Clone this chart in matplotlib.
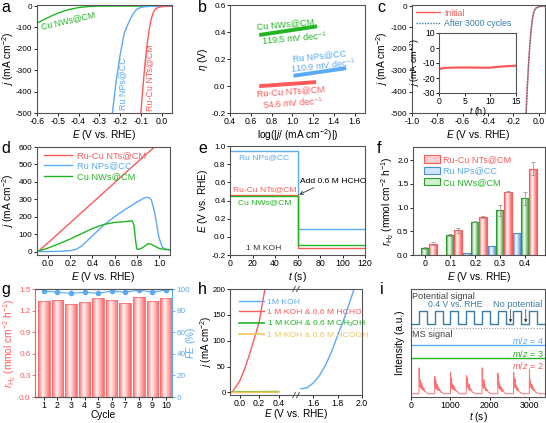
import numpy as np
import matplotlib
matplotlib.use('Agg')
import matplotlib.pyplot as plt
from matplotlib.colors import LinearSegmentedColormap
from matplotlib.patches import Patch
from matplotlib.ticker import FormatStrFormatter

BASE = 'Liberation Sans'
plt.rcParams.update({
    'font.family': [BASE, 'DejaVu Sans'],
    'font.size': 6.3,
    'xtick.labelsize': 6.3,
    'ytick.labelsize': 5.9,
    'axes.labelsize': 7.3,
    'mathtext.fontset': 'custom',
    'mathtext.rm': BASE,
    'mathtext.it': BASE + ':italic',
    'mathtext.bf': BASE + ':bold',
    'axes.unicode_minus': False,
    'axes.linewidth': 0.8,
    'axes.edgecolor': '#555555',
    'xtick.direction': 'out', 'ytick.direction': 'out',
    'xtick.major.size': 2.2, 'ytick.major.size': 2.2,
    'xtick.major.width': 0.6, 'ytick.major.width': 0.6,
    'xtick.major.pad': 1.0, 'ytick.major.pad': 1.0,
    'axes.labelpad': 0.8,
    'legend.frameon': False,
})

RED = '#ff5a5a'; BLUE = '#5aaaf5'; GREEN = '#22b522'; ORANGE = '#f2c45a'; STEEL = '#3a7ca5'

# ---------------- data ----------------
# (a) HER polarisation
a_rucu_E = [0.05, 0.02, 0.0, -0.02, -0.03, -0.04, -0.05, -0.06, -0.07, -0.08, -0.09, -0.1]
a_rucu_j = [0, -1, -3, -8, -15, -30, -60, -110, -180, -270, -380, -500]
a_ru_E = [0.05, 0.0, -0.05, -0.08, -0.1, -0.12, -0.14, -0.16, -0.18, -0.2, -0.22, -0.237]
a_ru_j = [0, 0, -1, -3, -6, -15, -40, -80, -127, -230, -360, -500]
a_cu_E = [-0.6, -0.55, -0.5, -0.45, -0.4, -0.35, -0.3, 0.05]
a_cu_j = [-80, -55, -33, -17, -7, -2, 0, 0]

# (b) Tafel
b_cu_x = [0.70, 1.22]; b_cu_y = [0.38, 0.44]
b_ru_x = [1.03, 1.50]; b_ru_y = [0.078, 0.13]
b_rucu_x = [0.70, 1.21]; b_rucu_y = [0.0, 0.028]

# (c) stability
c_init_E = [0.05, 0.02, 0.0, -0.02, -0.03, -0.04, -0.05, -0.06, -0.07, -0.08, -0.09, -0.1]
c_init_j = [0, -1, -3, -8, -15, -30, -60, -110, -180, -270, -380, -500]
c_after_E = [0.05, 0.02, 0.0, -0.02, -0.03, -0.04, -0.05, -0.06, -0.07, -0.08, -0.09, -0.098]
c_after_j = [0, -1, -4, -10, -19, -36, -68, -120, -192, -282, -392, -500]
c_t = [0, 0.5, 1, 2, 3, 4, 5, 6, 7, 8, 9, 10, 11, 12, 13, 14, 15]
c_tj = [-14.2, -13.6, -13.3, -13.2, -13.1, -13.0, -13.0, -13.0, -13.1, -13.1, -13.2, -13.1, -12.7, -12.4, -12.2, -12.0, -11.8]

# (d) HzOR polarisation
d_rucu_E = [-0.1, 0.0, 0.2, 0.4, 0.6, 0.8, 0.96]
d_rucu_j = [-5, 50, 165, 280, 395, 510, 600]
d_ru_E = [-0.1, 0.0, 0.1, 0.2, 0.25, 0.3, 0.4, 0.5, 0.6, 0.7, 0.8, 0.86, 0.9, 0.93, 0.96, 1.0, 1.03, 1.06, 1.1]
d_ru_j = [0, 0, 1, 5, 12, 30, 90, 150, 200, 243, 283, 305, 312, 300, 230, 80, 25, 14, 10]
d_cu_E = [-0.1, 0.0, 0.1, 0.2, 0.3, 0.4, 0.5, 0.6, 0.7, 0.76, 0.775, 0.79, 0.8, 0.82, 0.86, 0.9, 0.93, 0.97, 1.0, 1.05, 1.1]
d_cu_j = [0, 20, 45, 72, 102, 132, 155, 167, 172, 176, 150, 60, 15, 12, 25, 45, 42, 28, 18, 12, 10]

# (e) open circuit potential
e_t = [0, 60, 60, 120]
e_ru = [0.95, 0.95, 0.09, 0.09]
e_rucu = [0.46, 0.46, -0.12, -0.12]
e_cu = [0.45, 0.45, -0.09, -0.09]

# (f) H2 rate
f_E = ['0', '0.1', '0.2', '0.3', '0.4']
f_ru = [0.01, 0.01, 0.04, 0.18, 0.47]
f_cu = [0.14, 0.42, 0.70, 0.94, 1.20]
f_rucu = [0.24, 0.52, 0.80, 1.34, 1.82]
f_cu_err = [0.02, 0.02, 0.01, 0.12, 0.14]
f_rucu_err = [0.03, 0.06, 0.02, 0.02, 0.14]

# (g) cycling
g_cycle = [1, 2, 3, 4, 5, 6, 7, 8, 9, 10]
g_rate = [1.34, 1.35, 1.29, 1.32, 1.38, 1.35, 1.30, 1.39, 1.34, 1.37]
g_fe = [98, 97, 96, 97, 96, 98, 97, 99, 97, 99]

# (h) different electrolytes
h_koh_E = [1.5, 1.55, 1.6, 1.65, 1.7, 1.75, 1.8, 1.85, 1.9, 1.935]
h_koh_j = [7, 9, 18, 32, 52, 78, 110, 140, 175, 200]
h_hcho_E = [-0.08, -0.05, 0.0, 0.05, 0.1, 0.15, 0.2, 0.26]
h_hcho_j = [0, 8, 22, 45, 73, 104, 136, 200]
h_meoh_E = [-0.08, 0.0, 0.1, 0.2, 0.3, 0.4]
h_meoh_j = [0.5, 1.0, 1.2, 1.3, 1.4, 1.5]
h_hcooh_E = [-0.08, 0.0, 0.1, 0.2, 0.3, 0.4]
h_hcooh_j = [0, 0.2, 0.4, 0.5, 0.6, 0.7]

# (i) online MS
i_pulse_starts = [200, 600, 1000, 1400, 1800, 2200, 2600, 3000]
i_pulse_len = 200
i_low, i_high = 67.6, 79.6
i_ms_off = [0, 6, 14, 22, 30, 40, 50, 60, 72, 85, 100, 115, 130, 150, 175, 200, 225]
i_ms_vals = [
    [3, 27, 14, 10, 16, 9, 12, 8, 13, 7, 10, 6, 8, 5, 5, 4, 3],
    [3, 19, 11, 8, 15, 9, 11, 7, 12, 6, 9, 6, 7, 5, 4, 4, 3],
    [3, 23, 13, 9, 17, 8, 12, 7, 11, 7, 10, 6, 7, 5, 5, 4, 3],
    [3, 20, 12, 18, 10, 14, 8, 11, 7, 12, 6, 8, 6, 5, 4, 4, 3],
    [3, 27, 15, 10, 13, 8, 16, 9, 11, 6, 9, 6, 7, 5, 4, 4, 3],
    [3, 22, 12, 9, 14, 8, 11, 7, 10, 6, 9, 5, 7, 5, 4, 3, 3],
    [3, 23, 13, 9, 12, 17, 9, 11, 7, 10, 6, 8, 6, 5, 4, 4, 3],
    [3, 26, 14, 10, 15, 9, 12, 8, 11, 7, 9, 6, 7, 5, 4, 4, 3],
]
i_base = 3
i_m3, i_m4, i_sep = 36, 48, 64

# ---------------- figure ----------------
W, H = 546, 423
fig = plt.figure(figsize=(W / 100, H / 100), dpi=100)


def ax_px(l, t, r, b):
    return fig.add_axes([l / W, 1 - b / H, (r - l) / W, (b - t) / H])


def letter(x, y, s):
    fig.text(x / W, 1 - y / H, s, fontsize=11.5, ha='left', va='baseline')


def ylab_at(ax, px_x, l):
    # anchor edge of the y label at figure pixel column px_x
    ax.yaxis.set_label_coords((px_x - l) / (ax.get_position().width * W), 0.5)


def xlab_at(ax, px_y, t, b):
    ax.xaxis.set_label_coords(0.5, -(px_y - b) / (b - t))


XL = r'$E$ (V vs. RHE)'
JL = r'$j$ (mA cm$^{-2}$)'
RL = r'$r_{\mathrm{H_2}}$ (mmol cm$^{-2}$ h$^{-1}$)'


def grad_bars(ax, x, h, width, color, light='#ffffff', lw=0.8):
    bars = ax.bar(x, h, width, color='none', edgecolor=color, lw=lw, zorder=3)
    cmap = LinearSegmentedColormap.from_list('g', [(0, color), (0.4, light), (1, color)])
    grad = np.linspace(0, 1, 64).reshape(1, -1)
    for b in bars:
        x0, y0 = b.get_x(), b.get_y()
        w, hh = b.get_width(), b.get_height()
        if hh <= 0:
            continue
        im = ax.imshow(grad, extent=[x0, x0 + w, y0, y0 + hh], cmap=cmap,
                       aspect='auto', zorder=2, interpolation='bilinear')
        im.set_clip_path(b)
    return bars

# (a)
ax = ax_px(37, 5, 172, 113)
ax.plot(a_cu_E, a_cu_j, color=GREEN, lw=1)
ax.plot(a_ru_E, a_ru_j, color=BLUE, lw=1)
ax.plot(a_rucu_E, a_rucu_j, color=RED, lw=1)
ax.set_xlim(-0.6, 0.05); ax.set_ylim(-500, 5)
ax.set_xticks([-0.6, -0.5, -0.4, -0.3, -0.2, -0.1, 0.0])
ax.xaxis.set_major_formatter(FormatStrFormatter('%.1f'))
ax.set_yticks([-500, -400, -300, -200, -100, 0])
ax.set_xlabel(XL); ax.set_ylabel(JL)
ylab_at(ax, 16, 37)
ax.text(-0.575, -108, 'Cu NWs@CM', color=GREEN, rotation=13, rotation_mode='anchor', fontsize=6.3)
ax.text(-0.207, -487, 'Ru NPs@CC', color=BLUE, rotation=90, fontsize=6.4, ha='left', va='bottom')
ax.text(-0.077, -490, 'Ru-Cu NTs@CM', color=RED, rotation=90, fontsize=6.4, ha='left', va='bottom')
letter(1, 12, 'a')

# (b)
ax = ax_px(230, 5, 365, 113)
ax.plot(b_cu_x, b_cu_y, color=GREEN, lw=2.8)
ax.plot(b_ru_x, b_ru_y, color=BLUE, lw=2.8)
ax.plot(b_rucu_x, b_rucu_y, color=RED, lw=2.8)
ax.set_xlim(0.4, 1.7); ax.set_ylim(-0.2, 0.6)
ax.set_xticks([0.4, 0.6, 0.8, 1.0, 1.2, 1.4, 1.6])
ax.set_yticks([-0.2, 0.0, 0.2, 0.4, 0.6])
ax.xaxis.set_major_formatter(FormatStrFormatter('%.1f'))
ax.yaxis.set_major_formatter(FormatStrFormatter('%.1f'))
ax.set_xlabel(r'log(|$j$/ (mA cm$^{-2}$)|)'); ax.set_ylabel(r'$\eta$ (V)')
fs = 6.6
ax.text(0.66, 0.44, 'Cu NWs@CM', color=GREEN, rotation=5, rotation_mode='anchor', va='center', fontsize=fs)
ax.text(0.70, 0.33, r'119.5 mV dec$^{-1}$', color=GREEN, rotation=5, rotation_mode='anchor', va='center', fontsize=fs)
ax.text(1.00, 0.20, 'Ru NPs@CC', color=BLUE, rotation=6, rotation_mode='anchor', va='center', fontsize=fs)
ax.text(0.98, 0.125, r'110.9 mV dec$^{-1}$', color=BLUE, rotation=6, rotation_mode='anchor', va='center', fontsize=fs)
ax.text(0.655, -0.06, 'Ru-Cu NTs@CM', color=RED, rotation=4, rotation_mode='anchor', va='center', fontsize=fs)
ax.text(0.71, -0.145, r'54.6 mV dec$^{-1}$', color=RED, rotation=4, rotation_mode='anchor', va='center', fontsize=fs)
letter(198, 12, 'b')

# (c)
ax = ax_px(412, 5, 545, 113)
ax.plot(c_init_E, c_init_j, color=RED, lw=1, label='Initial')
ax.plot(c_after_E, c_after_j, color=STEEL, lw=1, ls=(0, (1, 1)), label='After 3000 cycles')
ax.set_xlim(-1.0, 0.05); ax.set_ylim(-500, 5)
ax.set_xticks([-1.0, -0.8, -0.6, -0.4, -0.2, 0.0])
ax.xaxis.set_major_formatter(FormatStrFormatter('%.1f'))
ax.set_yticks([-500, -400, -300, -200, -100, 0])
ax.set_xlabel(XL); ax.set_ylabel(JL)
leg = ax.legend(loc='upper left', bbox_to_anchor=(-0.03, 1.04), handlelength=2.7,
                handletextpad=0.5, labelspacing=0.2, fontsize=6.3)
for t, c in zip(leg.get_texts(), [RED, STEEL]):
    t.set_color(c)
letter(377, 12, 'c')
ins = ax_px(439, 33, 516, 93)
ins.plot(c_t, c_tj, color=RED, lw=1.6)
ins.set_xlim(0, 15); ins.set_ylim(-30, 10)
ins.set_xticks([0, 5, 10, 15]); ins.set_yticks([-30, -20, -10, 0, 10])
ins.tick_params(labelsize=6.2, length=2, pad=1)
ins.set_xlabel(r'$t$ (h)', fontsize=6.5, labelpad=-0.5)
ins.set_ylabel(JL, fontsize=6.5, labelpad=0)

# (d)
ax = ax_px(37, 147, 170, 255)
ax.plot(d_rucu_E, d_rucu_j, color=RED, lw=1, label='Ru-Cu NTs@CM')
ax.plot(d_ru_E, d_ru_j, color=BLUE, lw=1, label='Ru NPs@CC')
ax.plot(d_cu_E, d_cu_j, color=GREEN, lw=1, label='Cu NWs@CM')
ax.set_xlim(-0.1, 1.1); ax.set_ylim(-20, 600)
ax.set_xticks([0.0, 0.2, 0.4, 0.6, 0.8, 1.0])
ax.xaxis.set_major_formatter(FormatStrFormatter('%.1f'))
ax.set_yticks([0, 100, 200, 300, 400, 500, 600])
ax.set_xlabel(XL); ax.set_ylabel(JL)
ylab_at(ax, 16, 37)
leg = ax.legend(loc='upper left', bbox_to_anchor=(-0.01, 1.04), handlelength=3.0,
                handletextpad=0.5, labelspacing=0.15, fontsize=6.7)
for t, c in zip(leg.get_texts(), [RED, BLUE, GREEN]):
    t.set_color(c)
letter(1, 153, 'd')

# (e)
ax = ax_px(230, 146, 365, 255)
ax.plot(e_t, e_ru, color=BLUE, lw=1)
ax.plot(e_t, e_rucu, color=RED, lw=1)
ax.plot(e_t, e_cu, color=GREEN, lw=1)
ax.set_xlim(0, 120); ax.set_ylim(-0.2, 1.0)
ax.set_xticks([0, 20, 40, 60, 80, 100, 120])
ax.set_yticks([-0.2, 0.0, 0.2, 0.4, 0.6, 0.8, 1.0])
ax.yaxis.set_major_formatter(FormatStrFormatter('%.1f'))
ax.set_xlabel(r'$t$ (s)'); ax.set_ylabel(r'$E$ (V vs. RHE)')
fe = 6.1
ax.text(8, 0.865, 'Ru NPs@CC', color=BLUE, va='center', fontsize=fe)
ax.text(3, 0.52, 'Ru-Cu NTs@CM', color=RED, va='center', fontsize=fe)
ax.text(7, 0.375, 'Cu NWs@CM', color=GREEN, va='center', fontsize=fe)
ax.text(14, -0.125, '1 M KOH', color='#333333', va='center', fontsize=fe)
ax.annotate('Add 0.6 M HCHO', xy=(61.5, 0.465), xytext=(62, 0.61), va='center', fontsize=fe,
            arrowprops=dict(arrowstyle='->', color='#333333', lw=0.6,
                            shrinkA=0, shrinkB=0, relpos=(0.3, 0)))
letter(198, 153, 'e')

# (f)
ax = ax_px(413, 147, 545, 255)
xf = np.arange(len(f_E))
bw = 0.32
grad_bars(ax, xf - bw, f_ru, bw, '#4a8fe0', light='#ffffff')
grad_bars(ax, xf, f_cu, bw, '#2a9a2a', light='#ffffff')
grad_bars(ax, xf + bw, f_rucu, bw, RED, light='#ffffff')
ax.errorbar(xf, f_cu, yerr=f_cu_err, fmt='none', ecolor='#999999', elinewidth=0.6, capsize=1.5, capthick=0.6, zorder=4)
ax.errorbar(xf + bw, f_rucu, yerr=f_rucu_err, fmt='none', ecolor='#999999', elinewidth=0.6, capsize=1.5, capthick=0.6, zorder=4)
ax.set_xlim(-0.5, 4.8); ax.set_ylim(0, 2.28)
ax.set_xticks(xf); ax.set_xticklabels(f_E)
ax.set_yticks([0, 0.5, 1.0, 1.5, 2.0])
ax.yaxis.set_major_formatter(FormatStrFormatter('%.1f'))
ax.set_xlabel(XL); ax.set_ylabel(RL)
handles = [Patch(facecolor='#ffd0d0', edgecolor=RED, lw=0.8),
           Patch(facecolor='#d0e4ff', edgecolor='#4a8fe0', lw=0.8),
           Patch(facecolor='#d0f0d0', edgecolor='#2a9a2a', lw=0.8)]
leg = ax.legend(handles, ['Ru-Cu NTs@CM', 'Ru NPs@CC', 'Cu NWs@CM'], loc='upper left',
                bbox_to_anchor=(0.02, 1.0), handlelength=1.8, handleheight=0.9,
                handletextpad=0.3, labelspacing=0.25, fontsize=6.6)
for t, c in zip(leg.get_texts(), [RED, BLUE, GREEN]):
    t.set_color(c)
letter(377, 153, 'f')

# (g)
ax = ax_px(35, 289, 172, 397)
grad_bars(ax, g_cycle, g_rate, 0.85, '#ff6a6a', light='#fff4f4', lw=0.6)
ax.set_xlim(0.35, 10.45); ax.set_ylim(0, 1.5)
ax.set_xticks(g_cycle)
ax.set_yticks([0, 0.3, 0.6, 0.9, 1.2, 1.5])
ax.yaxis.set_major_formatter(FormatStrFormatter('%.1f'))
ax.tick_params(axis='y', colors=RED)
ax.spines['left'].set_color(RED)
ax.spines['right'].set_visible(False)
ax.set_xlabel('Cycle')
xlab_at(ax, 409.5, 289, 397)
ax.set_ylabel(RL, color=RED)
ax2 = ax.twinx()
ax2.plot(g_cycle, g_fe, color=BLUE, lw=0.8, marker='o', ms=3)
ax2.set_ylim(0, 100)
ax2.set_yticks([0, 20, 40, 60, 80, 100])
ax2.tick_params(axis='y', colors=BLUE)
ax2.spines['right'].set_color(BLUE)
ax2.spines['left'].set_visible(False)
ax2.set_ylabel(r'$FE$ (%)', color=BLUE, fontsize=7)
ax2.yaxis.set_label_coords((184.5 - 35) / 137, 0.5)
letter(1, 294, 'g')

# (h)
axl = ax_px(230, 289, 296, 395)
axr = ax_px(296, 289, 362, 395)
l1, = axr.plot(h_koh_E, h_koh_j, color=BLUE, lw=1)
l2, = axl.plot(h_hcho_E, h_hcho_j, color=RED, lw=1)
l3, = axl.plot(h_meoh_E, h_meoh_j, color=GREEN, lw=1.2)
l4, = axl.plot(h_hcooh_E, h_hcooh_j, color=ORANGE, lw=1.2)
axl.set_xlim(-0.1, 0.58); axr.set_xlim(1.46, 2.0)
for a in (axl, axr):
    a.set_ylim(-5, 200)
axl.set_xticks([0.0, 0.2, 0.4]); axr.set_xticks([1.6, 1.8, 2.0])
axl.xaxis.set_major_formatter(FormatStrFormatter('%.1f'))
axr.xaxis.set_major_formatter(FormatStrFormatter('%.1f'))
axl.set_yticks([0, 50, 100, 150, 200])
axl.tick_params(axis='y', labelsize=5.7)
axr.set_yticks([])
axl.spines['right'].set_visible(False)
axr.spines['left'].set_visible(False)
axr.patch.set_alpha(0)
axl.set_ylabel(JL, fontsize=7)
ylab_at(axl, 213.5, 230)
fig.text(296 / W, 1 - 414 / H, XL, ha='center', va='center', fontsize=7.3)
d = 0.04
for yy in (0, 1):
    for dx in (-0.03, 0.03):
        axl.plot([1 + dx - d / 2, 1 + dx + d / 2], [yy - 0.025, yy + 0.025], transform=axl.transAxes,
                 color='#555555', lw=0.7, clip_on=False)
leg = fig.legend([l1, l2, l3, l4],
                 ['1M KOH', '1 M KOH & 0.6 M HCHO', r'1 M KOH & 0.6 M CH$_3$OH', '1 M KOH & 0.6 M HCOOH'],
                 loc='upper left', bbox_to_anchor=(231 / W, 1 - 290 / H), handlelength=3.0,
                 handletextpad=0.4, labelspacing=0.3, fontsize=6.1)
for t, c in zip(leg.get_texts(), [BLUE, RED, GREEN, ORANGE]):
    t.set_color(c)
letter(198, 294, 'h')

# (i)
ax = ax_px(411, 289, 545, 397)
pt = [0]; pv = [i_low]
for s in i_pulse_starts:
    pt += [s, s, s + i_pulse_len, s + i_pulse_len]
    pv += [i_low, i_high, i_high, i_low]
pt.append(3400); pv.append(i_low)
ax.plot(pt, pv, color=STEEL, lw=1)
mt = [0]; mv = [i_base]
for s, vals in zip(i_pulse_starts, i_ms_vals):
    for o, v in zip(i_ms_off, vals):
        mt.append(s + o); mv.append(v)
mt.append(3400); mv.append(i_base)
ax.plot(mt, mv, color='#ff7070', lw=0.7)
ax.plot([0, 3400], [i_m3, i_m3], color=GREEN, lw=1)
ax.plot([0, 3400], [i_m4, i_m4], color=BLUE, lw=1)
ax.plot([0, 3400], [i_sep, i_sep], color='#999999', lw=0.8, ls=(0, (1, 1.5)))
ax.set_xlim(0, 3400); ax.set_ylim(0, 100)
ax.set_xticks([0, 1000, 2000, 3000]); ax.set_yticks([])
ax.set_xlabel(r'$t$ (s)'); ax.set_ylabel('Intensity (a.u.)', labelpad=4)
xlab_at(ax, 409.5, 289, 397)
fi = 6.6
ax.text(30, 93, 'Potential signal', color='#444444', va='center', fontsize=fi)
ax.text(440, 86, '0.4 V vs. RHE', color=STEEL, va='center', fontsize=6.2)
ax.text(2090, 86, 'No potential', color=STEEL, va='center', fontsize=fi)
for xa in (2525, 2912):
    ax.annotate('', xy=(xa, 69), xytext=(xa, 81),
                arrowprops=dict(arrowstyle='-|>', color='#333333', lw=0.5, mutation_scale=4,
                                shrinkA=0, shrinkB=0))
ax.text(30, 58, 'MS signal', color='#444444', va='center', fontsize=fi)
ax.text(3370, i_m4 + 4.5, r'$m/z$ = 4', color=BLUE, ha='right', va='center', fontsize=fi)
ax.text(3370, i_m3 + 4.5, r'$m/z$ = 3', color=GREEN, ha='right', va='center', fontsize=fi)
ax.text(3370, i_m3 - 6.5, r'$m/z$ = 2', color=RED, ha='right', va='center', fontsize=fi)
letter(380, 294, 'i')

fig.savefig('out.png', dpi=100)
